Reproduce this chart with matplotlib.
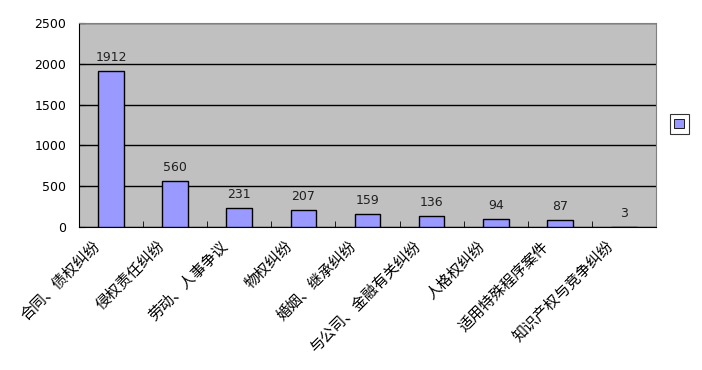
import matplotlib.pyplot as plt
import matplotlib.transforms as mtransforms
from matplotlib.patches import Patch

plt.rcParams['font.family'] = ['Noto Sans CJK SC', 'DejaVu Sans']

categories = ['合同、债权纠纷', '侵权责任纠纷', '劳动、人事争议', '物权纠纷', '婚姻、继承纠纷',
              '与公司、金融有关纠纷', '人格权纠纷', '适用特殊程序案件', '知识产权与竞争纠纷']
values = [1912, 560, 231, 207, 159, 136, 94, 87, 3]
y_ticks = [0, 500, 1000, 1500, 2000, 2500]

fig = plt.figure(figsize=(7.02, 3.70), dpi=100)
ax = fig.add_axes([0.1125, 0.3865, 0.822, 0.5513])
ax.set_facecolor('#c0c0c0')

x = list(range(len(categories)))
ax.bar(x, values, width=0.4, color='#9999ff', edgecolor='black', linewidth=1.0, zorder=3)
for xi, v in zip(x, values):
    ax.annotate(str(v), (xi, v), xytext=(0, 5), textcoords='offset points',
                ha='center', va='bottom', fontsize=9, family='DejaVu Sans', color='#202020', zorder=4)

ax.set_xlim(-0.5, len(categories) - 0.5)
ax.set_ylim(0, 2500)
ax.set_yticks(y_ticks)
ax.set_yticklabels([str(t) for t in y_ticks], fontsize=9, family='DejaVu Sans')
ax.yaxis.grid(True, color='black', linewidth=1.0, zorder=1)
ax.set_axisbelow(True)

ax.set_xticks(x)
ax.set_xticklabels(categories, rotation=45, ha='right', va='center', rotation_mode='anchor', fontsize=10.8)
ax.set_xticks([k - 0.5 for k in range(len(categories) + 1)], minor=True)
ax.tick_params(axis='x', which='major', length=0, pad=0)
ax.tick_params(axis='x', which='minor', length=4, direction='in', color='black')
ax.tick_params(axis='y', length=4, direction='in', pad=9)

shift = mtransforms.ScaledTranslation(-13 / 100, -17 / 100, fig.dpi_scale_trans)
for lbl in ax.get_xticklabels():
    lbl.set_transform(lbl.get_transform() + shift)

for side in ['top', 'right']:
    ax.spines[side].set_color('#808080')
for side in ['left', 'bottom']:
    ax.spines[side].set_color('black')

leg = fig.legend(handles=[Patch(facecolor='#9999ff', edgecolor='black', linewidth=0.6)], labels=[''],
                 loc='center', bbox_to_anchor=(0.9675, 0.665), frameon=True, fancybox=False,
                 handlelength=0.9, handleheight=0.9, handletextpad=0, borderpad=0.4, fontsize=8)
leg.get_frame().set_edgecolor('black')
leg.get_frame().set_linewidth(0.8)

fig.savefig('out.png', dpi=100)
